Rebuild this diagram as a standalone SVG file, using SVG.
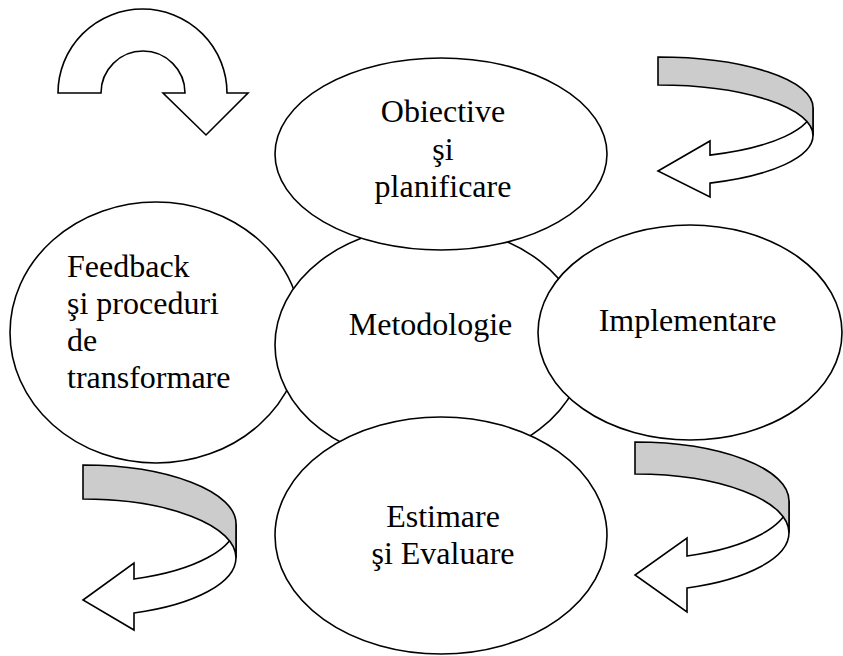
<svg xmlns="http://www.w3.org/2000/svg" width="843" height="656" viewBox="0 0 843 656">
<style>
.node { fill: #ffffff; stroke: #000000; stroke-width: 1.6; }
.lbl { font-family: "Liberation Serif", "Times New Roman", serif; font-size: 32px; fill: #000000; }
.c { text-anchor: middle; }
.front { fill: #ffffff; stroke: #000000; stroke-width: 1.6; stroke-linejoin: miter; }
.back { fill: #cccccc; stroke: #000000; stroke-width: 1.6; }
</style>
<rect width="843" height="656" fill="#ffffff"/>
<g id="node-feedback">
<ellipse class="node" cx="156" cy="332.5" rx="146" ry="130.5"/>
<text class="lbl" x="67" y="277">Feedback</text>
<text class="lbl" x="67" y="314">şi proceduri</text>
<text class="lbl" x="67" y="351">de</text>
<text class="lbl" x="67" y="388">transformare</text>
</g>
<g id="node-metodologie">
<ellipse class="node" cx="430" cy="345" rx="155" ry="119"/>
<text class="lbl c" x="430.5" y="335">Metodologie</text>
</g>
<g id="node-obiective">
<ellipse class="node" cx="441" cy="154" rx="166" ry="96"/>
<text class="lbl c" x="443" y="122">Obiective</text>
<text class="lbl c" x="443" y="159.5">şi</text>
<text class="lbl c" x="443" y="197">planificare</text>
</g>
<g id="node-implementare">
<ellipse class="node" cx="690" cy="332.5" rx="152" ry="107.5"/>
<text class="lbl c" x="687.5" y="331">Implementare</text>
</g>
<g id="node-estimare">
<ellipse class="node" cx="441" cy="535.5" rx="166" ry="118.5"/>
<text class="lbl c" x="443" y="527">Estimare</text>
<text class="lbl c" x="443" y="563.5">şi Evaluare</text>
</g>
<g id="connectors">
<path class="front" d="M 58,93 A 84.5,84 0 0 1 227,93 L 248,93 L 206,135 L 163,93 L 185,93 A 42,42 0 0 0 101,93 Z"/>
<g id="arrow-top-right">
<path class="front" d="M 813,135.5 A 155,50.5 0 0 1 710,183.1 L 710,197 L 658,171 L 710,141 L 710,155.1 A 155,50.5 0 0 0 813,107.5 Z"/>
<path class="back" d="M 658,57 A 155,50.5 0 0 1 813,107.5 L 813,135.5 A 155,50.5 0 0 0 658,85 Z"/>
</g>
<g id="arrow-bottom-right">
<path class="front" d="M 789,532.7 A 154,58.7 0 0 1 687,588 L 687,612 L 635,575 L 687,538 L 687,556 A 154,58.7 0 0 0 789,500.7 Z"/>
<path class="back" d="M 635,442 A 154,58.7 0 0 1 789,500.7 L 789,532.7 A 154,58.7 0 0 0 635,474 Z"/>
</g>
<g id="arrow-bottom-left">
<path class="front" d="M 236,557.7 A 153,58.7 0 0 1 134,613 L 134,630 L 83,600 L 134,563 L 134,579 A 153,58.7 0 0 0 236,523.7 Z"/>
<path class="back" d="M 83,465 A 153,58.7 0 0 1 236,523.7 L 236,557.7 A 153,58.7 0 0 0 83,499 Z"/>
</g>
</g>
</svg>
